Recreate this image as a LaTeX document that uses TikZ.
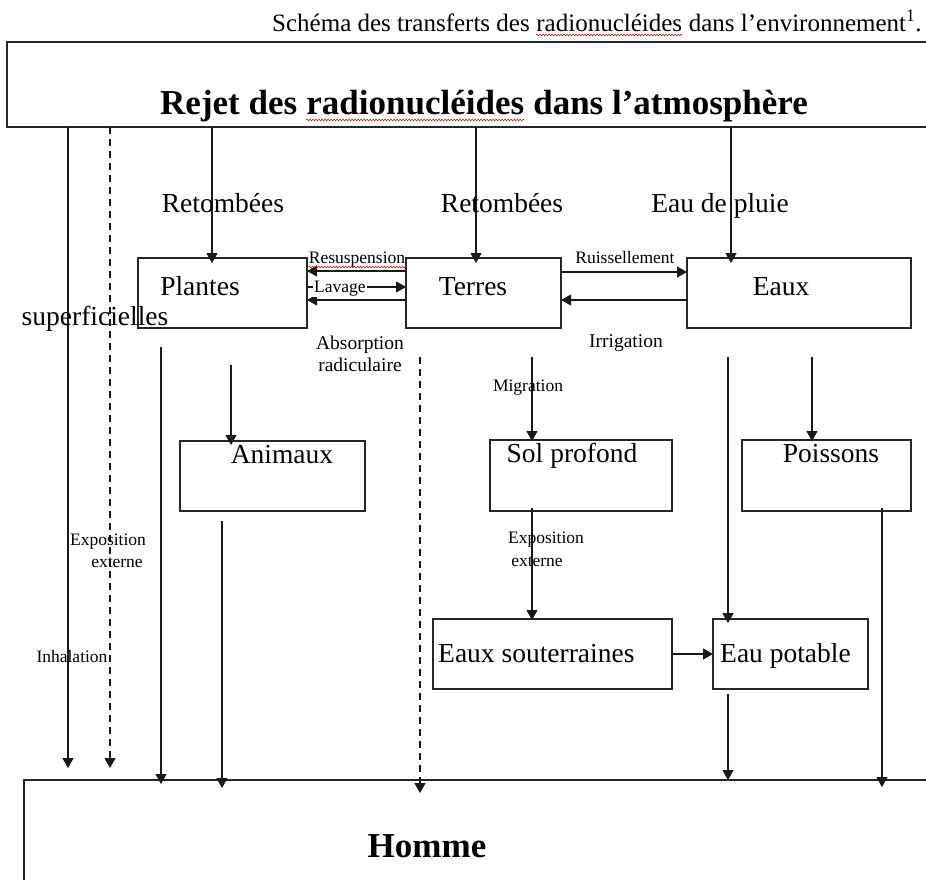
\documentclass[tikz,border=0pt]{standalone}
\usepackage{fontspec}
\setmainfont{Liberation Serif}
\usetikzlibrary{arrows.meta,decorations.pathmorphing}
\tikzset{
  bx/.style={draw=black!85, line width=1.4pt, rectangle, inner sep=0pt, outer sep=0pt, anchor=north west},
  arr/.style={draw=black!90, line width=1.1pt, -{Triangle[width=11pt,length=10pt]}},
  dsh/.style={dash pattern=on 7pt off 5pt},
  big/.style={font=\fontsize{27.5}{30}\selectfont, inner sep=0pt, anchor=base},
  mid/.style={font=\fontsize{19.5}{22}\selectfont, inner sep=0pt, anchor=base},
  sml/.style={font=\fontsize{17.5}{20}\selectfont, inner sep=0pt, anchor=base},
  ttl/.style={font=\bfseries\fontsize{35}{40}\selectfont, inner sep=0pt, anchor=base west},
  hd/.style={font=\fontsize{25}{28}\selectfont, inner sep=0pt, anchor=base west},
  sq/.style={draw=red!75!black, line width=0.5pt, decorate, decoration={snake, amplitude=0.9pt, segment length=3pt}},
}
\begin{document}
\begin{tikzpicture}[x=1pt,y=-1pt]
\clip (0,0) rectangle (926,879);
\fill[white] (0,0) rectangle (926,879);

% boxes
\node[bx, minimum width=935, minimum height=85] (rejet) at (7,42) {};
\node[bx, minimum width=169, minimum height=70] (plantes) at (138,258) {};
\node[bx, minimum width=155, minimum height=70] (terres) at (406,258) {};
\node[bx, minimum width=224, minimum height=70] (eaux) at (687,258) {};
\node[bx, minimum width=185, minimum height=70] (animaux) at (180,441) {};
\node[bx, minimum width=182, minimum height=71] (sol) at (490,440) {};
\node[bx, minimum width=169, minimum height=71] (poissons) at (742,440) {};
\node[bx, minimum width=239, minimum height=70] (souter) at (433,619) {};
\node[bx, minimum width=155, minimum height=70] (potable) at (713,619) {};
\node[bx, minimum width=935, minimum height=130] (homme) at (24,780) {};

% x positions
\coordinate (x68) at (68,0);
\coordinate (x110) at (110,0);
\coordinate (x161) at (161,0);
\coordinate (x212) at (212,0);
\coordinate (x222) at (222,0);
\coordinate (x231) at (231,0);
\coordinate (x420) at (420,0);
\coordinate (x476) at (476,0);
\coordinate (x532) at (532,0);
\coordinate (x728) at (728,0);
\coordinate (x731) at (731,0);
\coordinate (x812) at (812,0);
\coordinate (x882) at (882,0);

% vertical connectors
\draw[arr, shorten >=12pt] (rejet.south -| x68) -- (homme.north -| x68);
\draw[arr, dsh, shorten >=12pt] (rejet.south -| x110) -- (homme.north -| x110);
\draw[arr, shorten >=-5pt] (rejet.south -| x212) -- (plantes.north -| x212);
\draw[arr, shorten >=-5pt] (rejet.south -| x476) -- (terres.north -| x476);
\draw[arr, shorten >=-5pt] (rejet.south -| x731) -- (eaux.north -| x731);
\draw[arr, shorten <=19pt, shorten >=-4pt] (plantes.south -| x161) -- (homme.north -| x161);
\draw[arr, shorten <=37pt, shorten >=-4pt] (plantes.south -| x231) -- (animaux.north -| x231);
\draw[arr, shorten <=10pt, shorten >=-8pt] (animaux.south -| x222) -- (homme.north -| x222);
\draw[arr, dsh, shorten <=29pt, shorten >=-13pt] (terres.south -| x420) -- (homme.north -| x420);
\draw[arr, shorten <=29pt, shorten >=-1pt] (terres.south -| x532) -- (sol.north -| x532);
\draw[arr, shorten <=-3pt, shorten >=-1pt] (sol.south -| x532) -- (souter.north -| x532);
\draw[arr, shorten <=29pt, shorten >=-4pt] (eaux.south -| x728) -- (potable.north -| x728);
\draw[arr, shorten <=29pt, shorten >=-1pt] (eaux.south -| x812) -- (poissons.north -| x812);
\draw[arr, shorten <=5pt] (potable.south -| x728) -- (homme.north -| x728);
\draw[arr, shorten <=-3pt, shorten >=-7pt] (poissons.south -| x882) -- (homme.north -| x882);

% horizontal connectors
\draw[arr] ([yshift=22pt]terres.west) -- ([yshift=22pt]plantes.east);
\draw[arr] ([yshift=6pt]plantes.east) -- ([yshift=6pt]terres.west);
\draw[arr] ([yshift=-7pt]terres.west) -- ([yshift=-7pt]plantes.east);
\draw[arr] ([yshift=21pt]terres.east) -- ([yshift=21pt]eaux.west);
\draw[arr] ([yshift=-7pt]eaux.west) -- ([yshift=-7pt]terres.east);
\draw[arr] (souter.east) -- (potable.west);

% titles
\node[hd] (t1) at (272,31) {Schéma des transferts des};
\node[hd] (t2) at ([xshift=6.25pt]t1.base east) {radionucléides};
\node[hd] (t3) at ([xshift=6.25pt]t2.base east) {dans l’environnement\textsuperscript{1}.};
\draw[sq] ([yshift=-4pt]t2.base west) -- ([yshift=-4pt]t2.base east);

\node[ttl] (r1) at (160,114) {Rejet des};
\node[ttl] (r2) at ([xshift=8.75pt]r1.base east) {radionucléides};
\node[ttl] (r3) at ([xshift=8.75pt]r2.base east) {dans l’atmosphère};
\draw[sq] ([yshift=-6pt]r2.base west) -- ([yshift=-6pt]r2.base east);

\node[ttl, anchor=base] (hom) at (427,857) {Homme};

% labels
\node[big] (retA) at (223,212) {Retombées};
\node[big] (retB) at (502,212) {Retombées};
\node[big] (pluie) at (720,212) {Eau de pluie};
\node[big] (plT) at (200,295) {Plantes};
\node[big] (teT) at (473,295) {Terres};
\node[big] (eaT) at (781,295) {Eaux};
\node[big] (sup) at (95,325) {superficielles};
\node[sml] (resusp) at (357,263) {Resuspension};
\draw[sq] ([yshift=-4pt]resusp.base west) -- ([yshift=-4pt]resusp.base east);
\node[sml, anchor=base west, fill=white, inner xsep=1pt, inner ysep=1pt] (lav) at (313,292) {Lavage};
\node[mid] (abs1) at (360,349) {Absorption};
\node[mid] (abs2) at (360,371) {radiculaire};
\node[sml] (ruis) at (625,263) {Ruissellement};
\node[mid] (irr) at (626,347) {Irrigation};
\node[sml] (mig) at (528,391) {Migration};
\node[big] (ani) at (282,463) {Animaux};
\node[big] (solT) at (572,462) {Sol profond};
\node[big] (poiT) at (831,462) {Poissons};
\node[sml] (exA1) at (108,545) {Exposition};
\node[sml] (exA2) at (117,567) {externe};
\node[sml] (exB1) at (546,543) {Exposition};
\node[sml] (exB2) at (537,566) {externe};
\node[sml] (inh) at (72,662) {Inhalation};
\node[big, anchor=base west] (souT) at (438,662) {Eaux souterraines};
\node[big, anchor=base west] (potT) at (720,662) {Eau potable};
\end{tikzpicture}
\end{document}
